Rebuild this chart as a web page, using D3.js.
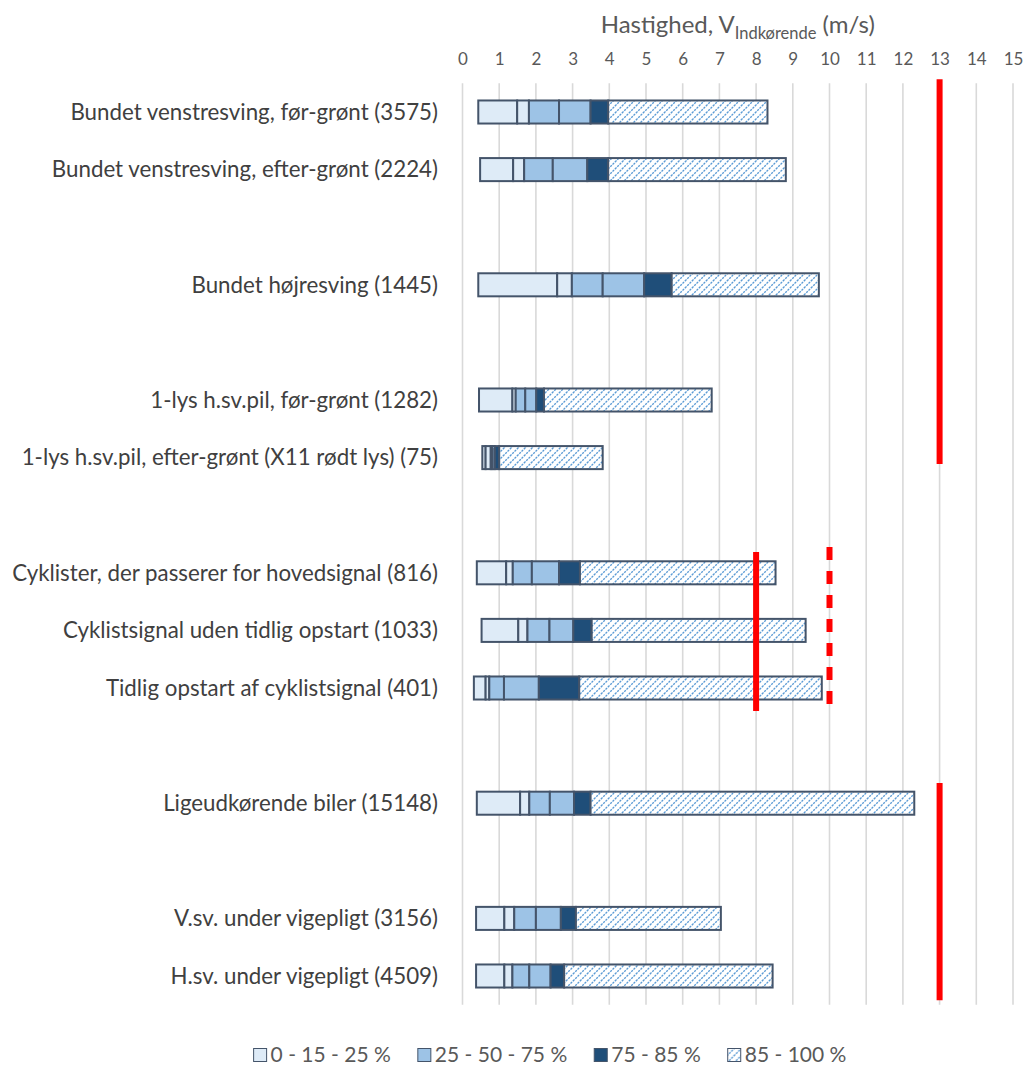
<!DOCTYPE html>
<html>
<head>
<meta charset="utf-8">
<script src="https://cdn.jsdelivr.net/npm/d3@7"></script>
<style>
  html, body { margin: 0; padding: 0; background: #fff; }
  svg { display: block; }
  text { font-family: Lato, "Open Sans", sans-serif; }
</style>
</head>
<body>
<svg id="chart" width="1026" height="1066"></svg>
<script>
// Categories (empty strings are spacer rows between groups)
const categories = [
  "Bundet venstresving, før-grønt (3575)",
  "Bundet venstresving, efter-grønt (2224)",
  "",
  "Bundet højresving (1445)",
  "",
  "1-lys h.sv.pil, før-grønt (1282)",
  "1-lys h.sv.pil, efter-grønt (X11 rødt lys) (75)",
  "",
  "Cyklister, der passerer for hovedsignal (816)",
  "Cyklistsignal uden tidlig opstart (1033)",
  "Tidlig opstart af cyklistsignal (401)",
  "",
  "Ligeudkørende biler (15148)",
  "",
  "V.sv. under vigepligt (3156)",
  "H.sv. under vigepligt (4509)"
];

// Speed percentiles (m/s): min, 15, 25, 50, 75, 85 %, max
const vMin = [0.43, 0.48, null, 0.43, null, 0.45, 0.54, null, 0.39, 0.52, 0.31, null, 0.39, null, 0.37, 0.37];
const p15  = [1.49, 1.38, null, 2.58, null, 1.36, 0.63, null, 1.19, 1.52, 0.63, null, 1.57, null, 1.14, 1.14];
const p25  = [1.81, 1.68, null, 2.98, null, 1.45, 0.77, null, 1.37, 1.77, 0.73, null, 1.82, null, 1.41, 1.36];
const p50  = [2.63, 2.46, null, 3.82, null, 1.71, 0.82, null, 1.89, 2.37, 1.13, null, 2.38, null, 2.00, 1.82];
const p75  = [3.49, 3.40, null, 4.95, null, 2.01, 0.88, null, 2.63, 3.02, 2.08, null, 3.04, null, 2.68, 2.40];
const p85  = [3.97, 3.97, null, 5.70, null, 2.22, 1.00, null, 3.20, 3.52, 3.18, null, 3.49, null, 3.09, 2.77];
const vMax = [8.31, 8.81, null, 9.71, null, 6.79, 3.82, null, 8.53, 9.35, 9.79, null, 12.31, null, 7.04, 8.45];

// Axis ticks
const xTicks = d3.range(0, 16);

// Reference speeds (m/s) and the row span (row index units) they cover
const refValue = [13, 8, 10, 13];
const refFrom  = [-0.57, 7.64, 7.55, 11.65];
const refTo    = [6.11, 10.40, 10.35, 15.42];
const refDashed = [false, false, true, false];

// Legend
const legendLabels = ["0 - 15 - 25 %", "25 - 50 - 75 %", "75 - 85 %", "85 - 100 %"];

const svg = d3.select("#chart");
const margin = { left: 462.5, right: 13, top: 83.2, bottom: 61.2 };
const W = 1026, H = 1066;

const x = d3.scaleLinear().domain([0, 15]).range([margin.left, W - margin.right]);
const y = d3.scaleBand().domain(d3.range(categories.length)).range([margin.top, H - margin.bottom]).padding(0);
const rowCenter = d3.scaleLinear().domain([0, categories.length - 1])
  .range([y(0) + y.bandwidth() / 2, y(categories.length - 1) + y.bandwidth() / 2]);
const barH = y.bandwidth() * 0.4;

// Hatch pattern
const defs = svg.append("defs");
const pat = defs.append("pattern")
  .attr("id", "hatch").attr("patternUnits", "userSpaceOnUse")
  .attr("width", 7).attr("height", 7);
pat.append("rect").attr("width", 7).attr("height", 7).attr("fill", "#fff");
pat.append("path")
  .attr("d", "M-1,8 L8,-1 M-1,1 L1,-1 M6,8 L8,6")
  .attr("stroke", "#5B9BD5").attr("stroke-width", 1.3)
  .attr("stroke-dasharray", "2.2,1");

// Gridlines
svg.append("g").selectAll("line").data(xTicks).join("line")
  .attr("x1", d => x(d)).attr("x2", d => x(d))
  .attr("y1", margin.top).attr("y2", H - margin.bottom)
  .attr("stroke", "#D9D9D9").attr("stroke-width", 1.6);

// Top axis labels
const xAxis = d3.axisTop(x).tickValues(xTicks).tickSize(0).tickPadding(0);
const gx = svg.append("g").attr("transform", "translate(0,65)").call(xAxis);
gx.select(".domain").remove();
gx.selectAll("text").attr("fill", "#595959").attr("font-size", 17)
  .attr("font-family", "Lato, sans-serif");

// Axis title with subscript
const title = svg.append("text")
  .attr("x", (x(0) + x(15)) / 2).attr("y", 33)
  .attr("text-anchor", "middle").attr("fill", "#595959").attr("font-size", 24);
title.append("tspan").text("Hastighed, V");
title.append("tspan").attr("font-size", 16.5).attr("dy", 6).text("Indkørende");
title.append("tspan").attr("dy", -6).text(" (m/s)");

// Category labels
svg.append("g").selectAll("text").data(categories.map((c, i) => ({ c, i })).filter(d => d.c !== ""))
  .join("text")
  .attr("x", 438).attr("y", d => rowCenter(d.i))
  .attr("dy", "0.35em").attr("text-anchor", "end")
  .attr("fill", "#404040").attr("font-size", 22.3)
  .text(d => d.c);

// Stacked segments
const fills = ["#DEEBF7", "#DEEBF7", "#9DC3E6", "#9DC3E6", "#1F4E79", "url(#hatch)"];
const segs = [];
categories.forEach((c, i) => {
  if (vMin[i] == null) return;
  const b = [vMin[i], p15[i], p25[i], p50[i], p75[i], p85[i], vMax[i]];
  for (let k = 0; k < 6; k++) segs.push({ i, k, a: b[k], z: b[k + 1] });
});
svg.append("g").selectAll("rect").data(segs).join("rect")
  .attr("x", d => x(d.a)).attr("width", d => x(d.z) - x(d.a))
  .attr("y", d => rowCenter(d.i) - barH / 2).attr("height", barH)
  .attr("fill", d => fills[d.k])
  .attr("stroke", "#44546A").attr("stroke-width", 2);

// Reference speed lines
svg.append("g").selectAll("line").data(refValue.map((v, j) => ({ v, j }))).join("line")
  .attr("x1", d => x(d.v)).attr("x2", d => x(d.v))
  .attr("y1", d => rowCenter(refFrom[d.j])).attr("y2", d => rowCenter(refTo[d.j]))
  .attr("stroke", "#FF0000").attr("stroke-width", 6)
  .attr("stroke-dasharray", d => refDashed[d.j] ? "13,11" : null);

// Legend
const lg = svg.append("g");
const items = lg.selectAll("g").data(legendLabels).join("g");
items.append("rect").attr("width", 13).attr("height", 13).attr("y", -6.5)
  .attr("fill", (d, i) => [fills[0], fills[2], fills[4], fills[5]][i])
  .attr("stroke", "#44546A").attr("stroke-width", 1);
items.append("text").attr("x", 17).attr("dy", "0.35em")
  .attr("fill", "#595959").attr("font-size", 21).text(d => d);
const widths = [];
items.each(function () { widths.push(this.getBBox().width); });
const gap = 27;
const total = d3.sum(widths) + gap * (widths.length - 1);
let start = 550 - total / 2;
items.attr("transform", (d, i) => {
  const t = `translate(${start},1055)`;
  start += widths[i] + gap;
  return t;
});
</script>
</body>
</html>
